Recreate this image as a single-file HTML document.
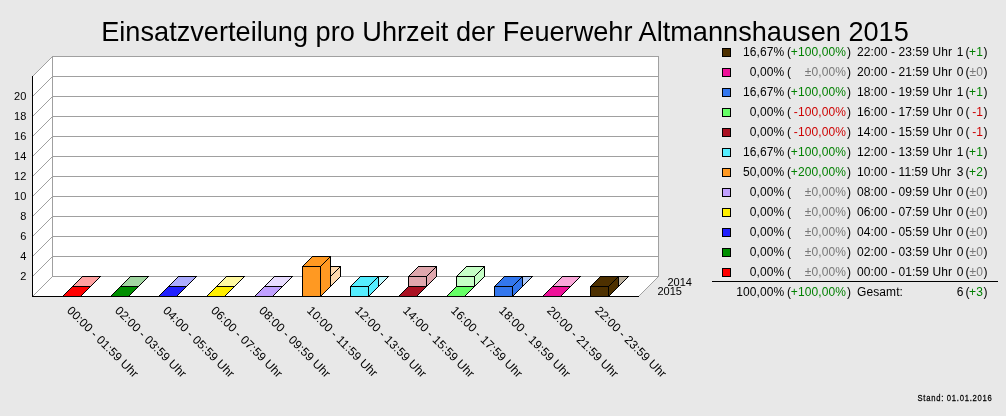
<!DOCTYPE html>
<html><head><meta charset="utf-8"><style>
html,body{margin:0;padding:0;background:#e8e8e8;width:1006px;height:416px;overflow:hidden}
svg{display:block;will-change:transform}
text{font-family:"Liberation Sans",sans-serif;fill:#000}
.title{font-size:28px}
.ax{font-size:11px}
.xl{font-size:12px;letter-spacing:0.1px}
.lg{font-size:12px;letter-spacing:0.1px}
.g{fill:#008000}
.r{fill:#cc0000}
.n{fill:#777777}
.st{font-size:9.6px;letter-spacing:0.9px;stroke:#000;stroke-width:0.25px}
</style></head><body>
<svg width="1006" height="416" viewBox="0 0 1006 416" shape-rendering="crispEdges">
<polygon points="32,296 32,76 52,56 52,276" fill="#fff"/>
<rect x="52" y="56" width="606" height="220" fill="#fff"/>
<polygon points="32,296 638,296 658,276 52,276" fill="#fff"/>
<line x1="52" y1="276.5" x2="658" y2="276.5" stroke="#a0a0a0" stroke-width="1"/>
<line x1="32.5" y1="296.5" x2="52.5" y2="276.5" stroke="#a0a0a0" stroke-width="1"/>
<line x1="52" y1="256.5" x2="658" y2="256.5" stroke="#a0a0a0" stroke-width="1"/>
<line x1="32.5" y1="276.5" x2="52.5" y2="256.5" stroke="#a0a0a0" stroke-width="1"/>
<line x1="52" y1="236.5" x2="658" y2="236.5" stroke="#a0a0a0" stroke-width="1"/>
<line x1="32.5" y1="256.5" x2="52.5" y2="236.5" stroke="#a0a0a0" stroke-width="1"/>
<line x1="52" y1="216.5" x2="658" y2="216.5" stroke="#a0a0a0" stroke-width="1"/>
<line x1="32.5" y1="236.5" x2="52.5" y2="216.5" stroke="#a0a0a0" stroke-width="1"/>
<line x1="52" y1="196.5" x2="658" y2="196.5" stroke="#a0a0a0" stroke-width="1"/>
<line x1="32.5" y1="216.5" x2="52.5" y2="196.5" stroke="#a0a0a0" stroke-width="1"/>
<line x1="52" y1="176.5" x2="658" y2="176.5" stroke="#a0a0a0" stroke-width="1"/>
<line x1="32.5" y1="196.5" x2="52.5" y2="176.5" stroke="#a0a0a0" stroke-width="1"/>
<line x1="52" y1="156.5" x2="658" y2="156.5" stroke="#a0a0a0" stroke-width="1"/>
<line x1="32.5" y1="176.5" x2="52.5" y2="156.5" stroke="#a0a0a0" stroke-width="1"/>
<line x1="52" y1="136.5" x2="658" y2="136.5" stroke="#a0a0a0" stroke-width="1"/>
<line x1="32.5" y1="156.5" x2="52.5" y2="136.5" stroke="#a0a0a0" stroke-width="1"/>
<line x1="52" y1="116.5" x2="658" y2="116.5" stroke="#a0a0a0" stroke-width="1"/>
<line x1="32.5" y1="136.5" x2="52.5" y2="116.5" stroke="#a0a0a0" stroke-width="1"/>
<line x1="52" y1="96.5" x2="658" y2="96.5" stroke="#a0a0a0" stroke-width="1"/>
<line x1="32.5" y1="116.5" x2="52.5" y2="96.5" stroke="#a0a0a0" stroke-width="1"/>
<line x1="52" y1="76.5" x2="658" y2="76.5" stroke="#a0a0a0" stroke-width="1"/>
<line x1="32.5" y1="96.5" x2="52.5" y2="76.5" stroke="#a0a0a0" stroke-width="1"/>
<line x1="52" y1="56.5" x2="658" y2="56.5" stroke="#a0a0a0" stroke-width="1"/>
<line x1="32.5" y1="76.5" x2="52.5" y2="56.5" stroke="#a0a0a0" stroke-width="1"/>
<line x1="52.5" y1="56" x2="52.5" y2="277" stroke="#a0a0a0"/>
<line x1="658.5" y1="56" x2="658.5" y2="277" stroke="#a0a0a0"/>
<line x1="638.5" y1="296.5" x2="658.5" y2="276.5" stroke="#a0a0a0"/>
<line x1="32.5" y1="76" x2="32.5" y2="297" stroke="#000"/>
<line x1="32" y1="296.5" x2="639" y2="296.5" stroke="#000"/>
<text x="26.3" y="280" text-anchor="end" class="ax">2</text>
<text x="26.3" y="260" text-anchor="end" class="ax">4</text>
<text x="26.3" y="240" text-anchor="end" class="ax">6</text>
<text x="26.3" y="220" text-anchor="end" class="ax">8</text>
<text x="26.3" y="200" text-anchor="end" class="ax">10</text>
<text x="26.3" y="180" text-anchor="end" class="ax">12</text>
<text x="26.3" y="160" text-anchor="end" class="ax">14</text>
<text x="26.3" y="140" text-anchor="end" class="ax">16</text>
<text x="26.3" y="120" text-anchor="end" class="ax">18</text>
<text x="26.3" y="100" text-anchor="end" class="ax">20</text>
<polygon points="72.5,286.5 90.5,286.5 100.5,276.5 82.5,276.5" fill="#ffa1a1" stroke="#000" stroke-width="1" stroke-linejoin="miter"/><polygon points="90.5,286.5 90.5,286.5 100.5,276.5 100.5,276.5" fill="#ffa1a1" stroke="#000" stroke-width="1" stroke-linejoin="miter"/><rect x="72.5" y="286.5" width="18" height="0" fill="#ffa1a1" stroke="#000" stroke-width="1" stroke-linejoin="miter"/>
<polygon points="62.5,296.5 80.5,296.5 90.5,286.5 72.5,286.5" fill="#ff0000" stroke="#000" stroke-width="1" stroke-linejoin="miter"/><polygon points="80.5,296.5 80.5,296.5 90.5,286.5 90.5,286.5" fill="#ff0000" stroke="#000" stroke-width="1" stroke-linejoin="miter"/><rect x="62.5" y="296.5" width="18" height="0" fill="#ff0000" stroke="#000" stroke-width="1" stroke-linejoin="miter"/>
<polygon points="120.5,286.5 138.5,286.5 148.5,276.5 130.5,276.5" fill="#a1d6a1" stroke="#000" stroke-width="1" stroke-linejoin="miter"/><polygon points="138.5,286.5 138.5,286.5 148.5,276.5 148.5,276.5" fill="#a1d6a1" stroke="#000" stroke-width="1" stroke-linejoin="miter"/><rect x="120.5" y="286.5" width="18" height="0" fill="#a1d6a1" stroke="#000" stroke-width="1" stroke-linejoin="miter"/>
<polygon points="110.5,296.5 128.5,296.5 138.5,286.5 120.5,286.5" fill="#008f00" stroke="#000" stroke-width="1" stroke-linejoin="miter"/><polygon points="128.5,296.5 128.5,296.5 138.5,286.5 138.5,286.5" fill="#008f00" stroke="#000" stroke-width="1" stroke-linejoin="miter"/><rect x="110.5" y="296.5" width="18" height="0" fill="#008f00" stroke="#000" stroke-width="1" stroke-linejoin="miter"/>
<polygon points="168.5,286.5 186.5,286.5 196.5,276.5 178.5,276.5" fill="#acacff" stroke="#000" stroke-width="1" stroke-linejoin="miter"/><polygon points="186.5,286.5 186.5,286.5 196.5,276.5 196.5,276.5" fill="#acacff" stroke="#000" stroke-width="1" stroke-linejoin="miter"/><rect x="168.5" y="286.5" width="18" height="0" fill="#acacff" stroke="#000" stroke-width="1" stroke-linejoin="miter"/>
<polygon points="158.5,296.5 176.5,296.5 186.5,286.5 168.5,286.5" fill="#2020ff" stroke="#000" stroke-width="1" stroke-linejoin="miter"/><polygon points="176.5,296.5 176.5,296.5 186.5,286.5 186.5,286.5" fill="#2020ff" stroke="#000" stroke-width="1" stroke-linejoin="miter"/><rect x="158.5" y="296.5" width="18" height="0" fill="#2020ff" stroke="#000" stroke-width="1" stroke-linejoin="miter"/>
<polygon points="216.5,286.5 234.5,286.5 244.5,276.5 226.5,276.5" fill="#fff9a1" stroke="#000" stroke-width="1" stroke-linejoin="miter"/><polygon points="234.5,286.5 234.5,286.5 244.5,276.5 244.5,276.5" fill="#fff9a1" stroke="#000" stroke-width="1" stroke-linejoin="miter"/><rect x="216.5" y="286.5" width="18" height="0" fill="#fff9a1" stroke="#000" stroke-width="1" stroke-linejoin="miter"/>
<polygon points="206.5,296.5 224.5,296.5 234.5,286.5 216.5,286.5" fill="#ffee00" stroke="#000" stroke-width="1" stroke-linejoin="miter"/><polygon points="224.5,296.5 224.5,296.5 234.5,286.5 234.5,286.5" fill="#ffee00" stroke="#000" stroke-width="1" stroke-linejoin="miter"/><rect x="206.5" y="296.5" width="18" height="0" fill="#ffee00" stroke="#000" stroke-width="1" stroke-linejoin="miter"/>
<polygon points="264.5,286.5 282.5,286.5 292.5,276.5 274.5,276.5" fill="#e8dcff" stroke="#000" stroke-width="1" stroke-linejoin="miter"/><polygon points="282.5,286.5 282.5,286.5 292.5,276.5 292.5,276.5" fill="#e8dcff" stroke="#000" stroke-width="1" stroke-linejoin="miter"/><rect x="264.5" y="286.5" width="18" height="0" fill="#e8dcff" stroke="#000" stroke-width="1" stroke-linejoin="miter"/>
<polygon points="254.5,296.5 272.5,296.5 282.5,286.5 264.5,286.5" fill="#c0a0ff" stroke="#000" stroke-width="1" stroke-linejoin="miter"/><polygon points="272.5,296.5 272.5,296.5 282.5,286.5 282.5,286.5" fill="#c0a0ff" stroke="#000" stroke-width="1" stroke-linejoin="miter"/><rect x="254.5" y="296.5" width="18" height="0" fill="#c0a0ff" stroke="#000" stroke-width="1" stroke-linejoin="miter"/>
<polygon points="312.5,276.5 330.5,276.5 340.5,266.5 322.5,266.5" fill="#ffd9ad" stroke="#000" stroke-width="1" stroke-linejoin="miter"/><polygon points="330.5,286.5 330.5,276.5 340.5,266.5 340.5,276.5" fill="#ffd9ad" stroke="#000" stroke-width="1" stroke-linejoin="miter"/><rect x="312.5" y="276.5" width="18" height="10" fill="#ffd9ad" stroke="#000" stroke-width="1" stroke-linejoin="miter"/>
<polygon points="302.5,266.5 320.5,266.5 330.5,256.5 312.5,256.5" fill="#ff9922" stroke="#000" stroke-width="1" stroke-linejoin="miter"/><polygon points="320.5,296.5 320.5,266.5 330.5,256.5 330.5,286.5" fill="#ff9922" stroke="#000" stroke-width="1" stroke-linejoin="miter"/><rect x="302.5" y="266.5" width="18" height="30" fill="#ff9922" stroke="#000" stroke-width="1" stroke-linejoin="miter"/>
<polygon points="360.5,286.5 378.5,286.5 388.5,276.5 370.5,276.5" fill="#c0f9ff" stroke="#000" stroke-width="1" stroke-linejoin="miter"/><polygon points="378.5,286.5 378.5,286.5 388.5,276.5 388.5,276.5" fill="#c0f9ff" stroke="#000" stroke-width="1" stroke-linejoin="miter"/><rect x="360.5" y="286.5" width="18" height="0" fill="#c0f9ff" stroke="#000" stroke-width="1" stroke-linejoin="miter"/>
<polygon points="350.5,286.5 368.5,286.5 378.5,276.5 360.5,276.5" fill="#55eeff" stroke="#000" stroke-width="1" stroke-linejoin="miter"/><polygon points="368.5,296.5 368.5,286.5 378.5,276.5 378.5,286.5" fill="#55eeff" stroke="#000" stroke-width="1" stroke-linejoin="miter"/><rect x="350.5" y="286.5" width="18" height="10" fill="#55eeff" stroke="#000" stroke-width="1" stroke-linejoin="miter"/>
<polygon points="408.5,276.5 426.5,276.5 436.5,266.5 418.5,266.5" fill="#e0a7ad" stroke="#000" stroke-width="1" stroke-linejoin="miter"/><polygon points="426.5,286.5 426.5,276.5 436.5,266.5 436.5,276.5" fill="#e0a7ad" stroke="#000" stroke-width="1" stroke-linejoin="miter"/><rect x="408.5" y="276.5" width="18" height="10" fill="#e0a7ad" stroke="#000" stroke-width="1" stroke-linejoin="miter"/>
<polygon points="398.5,296.5 416.5,296.5 426.5,286.5 408.5,286.5" fill="#aa1122" stroke="#000" stroke-width="1" stroke-linejoin="miter"/><polygon points="416.5,296.5 416.5,296.5 426.5,286.5 426.5,286.5" fill="#aa1122" stroke="#000" stroke-width="1" stroke-linejoin="miter"/><rect x="398.5" y="296.5" width="18" height="0" fill="#aa1122" stroke="#000" stroke-width="1" stroke-linejoin="miter"/>
<polygon points="456.5,276.5 474.5,276.5 484.5,266.5 466.5,266.5" fill="#c6ffc6" stroke="#000" stroke-width="1" stroke-linejoin="miter"/><polygon points="474.5,286.5 474.5,276.5 484.5,266.5 484.5,276.5" fill="#c6ffc6" stroke="#000" stroke-width="1" stroke-linejoin="miter"/><rect x="456.5" y="276.5" width="18" height="10" fill="#c6ffc6" stroke="#000" stroke-width="1" stroke-linejoin="miter"/>
<polygon points="446.5,296.5 464.5,296.5 474.5,286.5 456.5,286.5" fill="#66ff66" stroke="#000" stroke-width="1" stroke-linejoin="miter"/><polygon points="464.5,296.5 464.5,296.5 474.5,286.5 474.5,286.5" fill="#66ff66" stroke="#000" stroke-width="1" stroke-linejoin="miter"/><rect x="446.5" y="296.5" width="18" height="0" fill="#66ff66" stroke="#000" stroke-width="1" stroke-linejoin="miter"/>
<polygon points="504.5,286.5 522.5,286.5 532.5,276.5 514.5,276.5" fill="#b4cdf9" stroke="#000" stroke-width="1" stroke-linejoin="miter"/><polygon points="522.5,286.5 522.5,286.5 532.5,276.5 532.5,276.5" fill="#b4cdf9" stroke="#000" stroke-width="1" stroke-linejoin="miter"/><rect x="504.5" y="286.5" width="18" height="0" fill="#b4cdf9" stroke="#000" stroke-width="1" stroke-linejoin="miter"/>
<polygon points="494.5,286.5 512.5,286.5 522.5,276.5 504.5,276.5" fill="#3377ee" stroke="#000" stroke-width="1" stroke-linejoin="miter"/><polygon points="512.5,296.5 512.5,286.5 522.5,276.5 522.5,286.5" fill="#3377ee" stroke="#000" stroke-width="1" stroke-linejoin="miter"/><rect x="494.5" y="286.5" width="18" height="10" fill="#3377ee" stroke="#000" stroke-width="1" stroke-linejoin="miter"/>
<polygon points="552.5,286.5 570.5,286.5 580.5,276.5 562.5,276.5" fill="#f9a7d9" stroke="#000" stroke-width="1" stroke-linejoin="miter"/><polygon points="570.5,286.5 570.5,286.5 580.5,276.5 580.5,276.5" fill="#f9a7d9" stroke="#000" stroke-width="1" stroke-linejoin="miter"/><rect x="552.5" y="286.5" width="18" height="0" fill="#f9a7d9" stroke="#000" stroke-width="1" stroke-linejoin="miter"/>
<polygon points="542.5,296.5 560.5,296.5 570.5,286.5 552.5,286.5" fill="#ee1199" stroke="#000" stroke-width="1" stroke-linejoin="miter"/><polygon points="560.5,296.5 560.5,296.5 570.5,286.5 570.5,286.5" fill="#ee1199" stroke="#000" stroke-width="1" stroke-linejoin="miter"/><rect x="542.5" y="296.5" width="18" height="0" fill="#ee1199" stroke="#000" stroke-width="1" stroke-linejoin="miter"/>
<polygon points="600.5,286.5 618.5,286.5 628.5,276.5 610.5,276.5" fill="#bdb2a1" stroke="#000" stroke-width="1" stroke-linejoin="miter"/><polygon points="618.5,286.5 618.5,286.5 628.5,276.5 628.5,276.5" fill="#bdb2a1" stroke="#000" stroke-width="1" stroke-linejoin="miter"/><rect x="600.5" y="286.5" width="18" height="0" fill="#bdb2a1" stroke="#000" stroke-width="1" stroke-linejoin="miter"/>
<polygon points="590.5,286.5 608.5,286.5 618.5,276.5 600.5,276.5" fill="#4d3000" stroke="#000" stroke-width="1" stroke-linejoin="miter"/><polygon points="608.5,296.5 608.5,286.5 618.5,276.5 618.5,286.5" fill="#4d3000" stroke="#000" stroke-width="1" stroke-linejoin="miter"/><rect x="590.5" y="286.5" width="18" height="10" fill="#4d3000" stroke="#000" stroke-width="1" stroke-linejoin="miter"/>
<text x="667.5" y="286" class="ax">2014</text>
<text x="657.5" y="295" class="ax">2015</text>
<text transform="translate(72.0,305.5) rotate(45)" x="0" y="8" class="xl">00:00 - 01:59 Uhr</text>
<text transform="translate(120.0,305.5) rotate(45)" x="0" y="8" class="xl">02:00 - 03:59 Uhr</text>
<text transform="translate(168.0,305.5) rotate(45)" x="0" y="8" class="xl">04:00 - 05:59 Uhr</text>
<text transform="translate(216.0,305.5) rotate(45)" x="0" y="8" class="xl">06:00 - 07:59 Uhr</text>
<text transform="translate(264.0,305.5) rotate(45)" x="0" y="8" class="xl">08:00 - 09:59 Uhr</text>
<text transform="translate(312.0,305.5) rotate(45)" x="0" y="8" class="xl">10:00 - 11:59 Uhr</text>
<text transform="translate(360.0,305.5) rotate(45)" x="0" y="8" class="xl">12:00 - 13:59 Uhr</text>
<text transform="translate(408.0,305.5) rotate(45)" x="0" y="8" class="xl">14:00 - 15:59 Uhr</text>
<text transform="translate(456.0,305.5) rotate(45)" x="0" y="8" class="xl">16:00 - 17:59 Uhr</text>
<text transform="translate(504.0,305.5) rotate(45)" x="0" y="8" class="xl">18:00 - 19:59 Uhr</text>
<text transform="translate(552.0,305.5) rotate(45)" x="0" y="8" class="xl">20:00 - 21:59 Uhr</text>
<text transform="translate(600.0,305.5) rotate(45)" x="0" y="8" class="xl">22:00 - 23:59 Uhr</text>
<rect x="722.5" y="48.5" width="8" height="8" fill="#4d3000" stroke="#000"/>
<text x="784.3" y="56" text-anchor="end" class="lg">16,67%</text>
<text x="787" y="56" class="lg">(</text>
<text x="846" y="56" text-anchor="end" class="lg g">+100,00%</text>
<text x="847" y="56" class="lg">)</text>
<text x="857" y="56" class="lg">22:00 - 23:59 Uhr</text>
<text x="963.6" y="56" text-anchor="end" class="lg">1</text>
<text x="965.4" y="56" class="lg">(</text>
<text x="983" y="56" text-anchor="end" class="lg g">+1</text>
<text x="983.5" y="56" class="lg">)</text>
<rect x="722.5" y="68.5" width="8" height="8" fill="#ee1199" stroke="#000"/>
<text x="784.3" y="76" text-anchor="end" class="lg">0,00%</text>
<text x="787" y="76" class="lg">(</text>
<text x="846" y="76" text-anchor="end" class="lg n">±0,00%</text>
<text x="847" y="76" class="lg">)</text>
<text x="857" y="76" class="lg">20:00 - 21:59 Uhr</text>
<text x="963.6" y="76" text-anchor="end" class="lg">0</text>
<text x="965.4" y="76" class="lg">(</text>
<text x="983" y="76" text-anchor="end" class="lg n">±0</text>
<text x="983.5" y="76" class="lg">)</text>
<rect x="722.5" y="88.5" width="8" height="8" fill="#3377ee" stroke="#000"/>
<text x="784.3" y="96" text-anchor="end" class="lg">16,67%</text>
<text x="787" y="96" class="lg">(</text>
<text x="846" y="96" text-anchor="end" class="lg g">+100,00%</text>
<text x="847" y="96" class="lg">)</text>
<text x="857" y="96" class="lg">18:00 - 19:59 Uhr</text>
<text x="963.6" y="96" text-anchor="end" class="lg">1</text>
<text x="965.4" y="96" class="lg">(</text>
<text x="983" y="96" text-anchor="end" class="lg g">+1</text>
<text x="983.5" y="96" class="lg">)</text>
<rect x="722.5" y="108.5" width="8" height="8" fill="#66ff66" stroke="#000"/>
<text x="784.3" y="116" text-anchor="end" class="lg">0,00%</text>
<text x="787" y="116" class="lg">(</text>
<text x="846" y="116" text-anchor="end" class="lg r">-100,00%</text>
<text x="847" y="116" class="lg">)</text>
<text x="857" y="116" class="lg">16:00 - 17:59 Uhr</text>
<text x="963.6" y="116" text-anchor="end" class="lg">0</text>
<text x="965.4" y="116" class="lg">(</text>
<text x="983" y="116" text-anchor="end" class="lg r"> -1</text>
<text x="983.5" y="116" class="lg">)</text>
<rect x="722.5" y="128.5" width="8" height="8" fill="#aa1122" stroke="#000"/>
<text x="784.3" y="136" text-anchor="end" class="lg">0,00%</text>
<text x="787" y="136" class="lg">(</text>
<text x="846" y="136" text-anchor="end" class="lg r">-100,00%</text>
<text x="847" y="136" class="lg">)</text>
<text x="857" y="136" class="lg">14:00 - 15:59 Uhr</text>
<text x="963.6" y="136" text-anchor="end" class="lg">0</text>
<text x="965.4" y="136" class="lg">(</text>
<text x="983" y="136" text-anchor="end" class="lg r"> -1</text>
<text x="983.5" y="136" class="lg">)</text>
<rect x="722.5" y="148.5" width="8" height="8" fill="#55eeff" stroke="#000"/>
<text x="784.3" y="156" text-anchor="end" class="lg">16,67%</text>
<text x="787" y="156" class="lg">(</text>
<text x="846" y="156" text-anchor="end" class="lg g">+100,00%</text>
<text x="847" y="156" class="lg">)</text>
<text x="857" y="156" class="lg">12:00 - 13:59 Uhr</text>
<text x="963.6" y="156" text-anchor="end" class="lg">1</text>
<text x="965.4" y="156" class="lg">(</text>
<text x="983" y="156" text-anchor="end" class="lg g">+1</text>
<text x="983.5" y="156" class="lg">)</text>
<rect x="722.5" y="168.5" width="8" height="8" fill="#ff9922" stroke="#000"/>
<text x="784.3" y="176" text-anchor="end" class="lg">50,00%</text>
<text x="787" y="176" class="lg">(</text>
<text x="846" y="176" text-anchor="end" class="lg g">+200,00%</text>
<text x="847" y="176" class="lg">)</text>
<text x="857" y="176" class="lg">10:00 - 11:59 Uhr</text>
<text x="963.6" y="176" text-anchor="end" class="lg">3</text>
<text x="965.4" y="176" class="lg">(</text>
<text x="983" y="176" text-anchor="end" class="lg g">+2</text>
<text x="983.5" y="176" class="lg">)</text>
<rect x="722.5" y="188.5" width="8" height="8" fill="#c0a0ff" stroke="#000"/>
<text x="784.3" y="196" text-anchor="end" class="lg">0,00%</text>
<text x="787" y="196" class="lg">(</text>
<text x="846" y="196" text-anchor="end" class="lg n">±0,00%</text>
<text x="847" y="196" class="lg">)</text>
<text x="857" y="196" class="lg">08:00 - 09:59 Uhr</text>
<text x="963.6" y="196" text-anchor="end" class="lg">0</text>
<text x="965.4" y="196" class="lg">(</text>
<text x="983" y="196" text-anchor="end" class="lg n">±0</text>
<text x="983.5" y="196" class="lg">)</text>
<rect x="722.5" y="208.5" width="8" height="8" fill="#ffee00" stroke="#000"/>
<text x="784.3" y="216" text-anchor="end" class="lg">0,00%</text>
<text x="787" y="216" class="lg">(</text>
<text x="846" y="216" text-anchor="end" class="lg n">±0,00%</text>
<text x="847" y="216" class="lg">)</text>
<text x="857" y="216" class="lg">06:00 - 07:59 Uhr</text>
<text x="963.6" y="216" text-anchor="end" class="lg">0</text>
<text x="965.4" y="216" class="lg">(</text>
<text x="983" y="216" text-anchor="end" class="lg n">±0</text>
<text x="983.5" y="216" class="lg">)</text>
<rect x="722.5" y="228.5" width="8" height="8" fill="#2020ff" stroke="#000"/>
<text x="784.3" y="236" text-anchor="end" class="lg">0,00%</text>
<text x="787" y="236" class="lg">(</text>
<text x="846" y="236" text-anchor="end" class="lg n">±0,00%</text>
<text x="847" y="236" class="lg">)</text>
<text x="857" y="236" class="lg">04:00 - 05:59 Uhr</text>
<text x="963.6" y="236" text-anchor="end" class="lg">0</text>
<text x="965.4" y="236" class="lg">(</text>
<text x="983" y="236" text-anchor="end" class="lg n">±0</text>
<text x="983.5" y="236" class="lg">)</text>
<rect x="722.5" y="248.5" width="8" height="8" fill="#008f00" stroke="#000"/>
<text x="784.3" y="256" text-anchor="end" class="lg">0,00%</text>
<text x="787" y="256" class="lg">(</text>
<text x="846" y="256" text-anchor="end" class="lg n">±0,00%</text>
<text x="847" y="256" class="lg">)</text>
<text x="857" y="256" class="lg">02:00 - 03:59 Uhr</text>
<text x="963.6" y="256" text-anchor="end" class="lg">0</text>
<text x="965.4" y="256" class="lg">(</text>
<text x="983" y="256" text-anchor="end" class="lg n">±0</text>
<text x="983.5" y="256" class="lg">)</text>
<rect x="722.5" y="268.5" width="8" height="8" fill="#ff0000" stroke="#000"/>
<text x="784.3" y="276" text-anchor="end" class="lg">0,00%</text>
<text x="787" y="276" class="lg">(</text>
<text x="846" y="276" text-anchor="end" class="lg n">±0,00%</text>
<text x="847" y="276" class="lg">)</text>
<text x="857" y="276" class="lg">00:00 - 01:59 Uhr</text>
<text x="963.6" y="276" text-anchor="end" class="lg">0</text>
<text x="965.4" y="276" class="lg">(</text>
<text x="983" y="276" text-anchor="end" class="lg n">±0</text>
<text x="983.5" y="276" class="lg">)</text>
<line x1="712" y1="281.5" x2="998" y2="281.5" stroke="#000"/>
<text x="784.3" y="296" text-anchor="end" class="lg">100,00%</text>
<text x="787" y="296" class="lg">(</text>
<text x="846" y="296" text-anchor="end" class="lg g">+100,00%</text>
<text x="847" y="296" class="lg">)</text>
<text x="857" y="296" class="lg">Gesamt:</text>
<text x="963.6" y="296" text-anchor="end" class="lg">6</text>
<text x="965.4" y="296" class="lg">(</text>
<text x="983" y="296" text-anchor="end" class="lg g">+3</text>
<text x="983.5" y="296" class="lg">)</text>
<text transform="translate(505,41) scale(0.97,1)" text-anchor="middle" class="title">Einsatzverteilung pro Uhrzeit der Feuerwehr Altmannshausen 2015</text>
<text transform="translate(917.5,401) scale(0.8,1)" x="0" y="0" class="st">Stand: 01.01.2016</text>
</svg>
</body></html>
